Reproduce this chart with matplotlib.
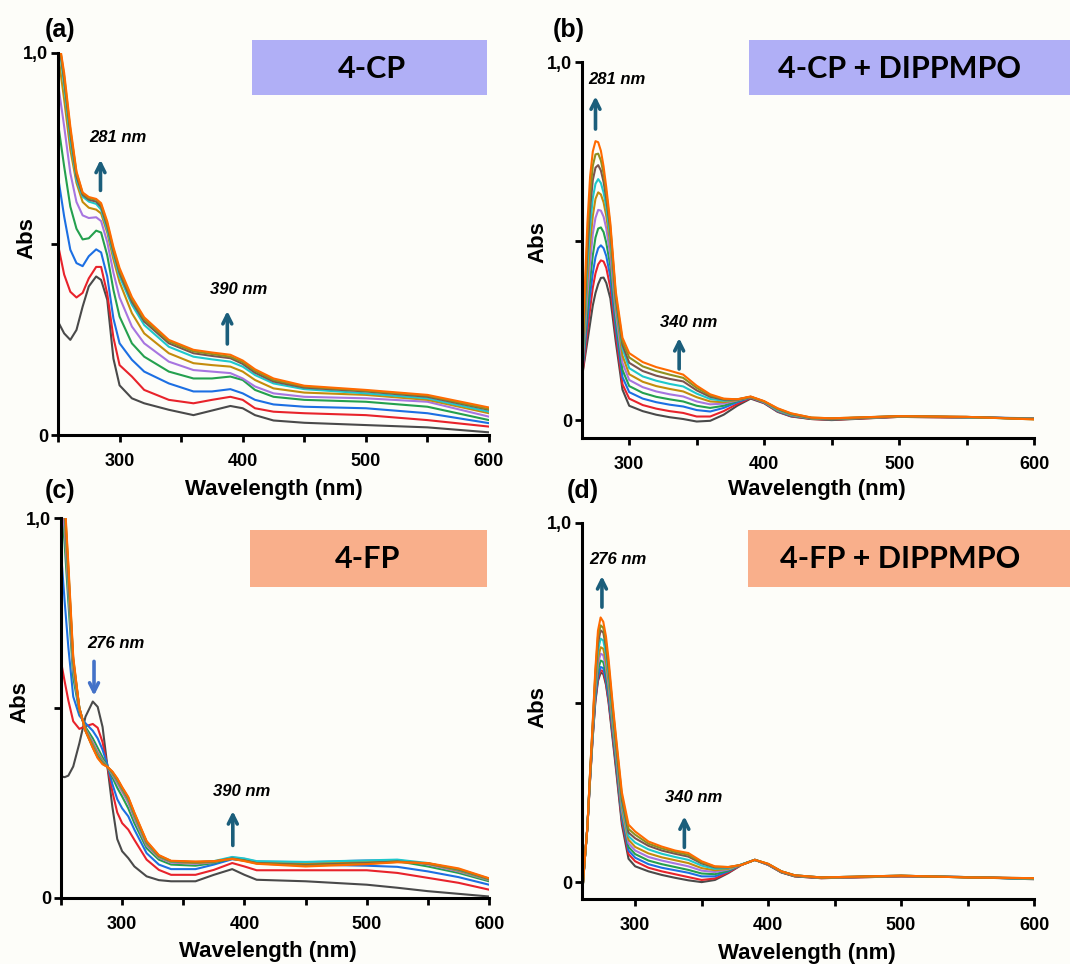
import matplotlib
matplotlib.use('Agg')
import matplotlib.pyplot as plt
from matplotlib.patches import Rectangle

W, H = 1070, 964
BG = '#fdfdf9'
colors = ['#4a4a4a', '#e8232b', '#1c6fe3', '#24a04e', '#a775e0',
          '#c48c0c', '#1ec8cc', '#7a5450', '#8e9020', '#ff6a00']

# ---- (a) 4-CP ----
wl_a = [250, 255, 260, 265, 270, 275, 281, 285, 290, 295, 300, 310, 320, 340,
        360, 375, 390, 400, 410, 425, 450, 500, 550, 600]
abs_a = [
    [0.297, 0.266, 0.249, 0.275, 0.336, 0.389, 0.415, 0.406, 0.354, 0.200, 0.130, 0.096, 0.083, 0.066, 0.052, 0.064, 0.076, 0.070, 0.052, 0.038, 0.032, 0.026, 0.020, 0.007],
    [0.498, 0.420, 0.375, 0.360, 0.372, 0.410, 0.440, 0.440, 0.370, 0.255, 0.183, 0.153, 0.118, 0.092, 0.083, 0.092, 0.100, 0.092, 0.070, 0.061, 0.057, 0.052, 0.039, 0.022],
    [0.677, 0.572, 0.485, 0.450, 0.442, 0.468, 0.486, 0.478, 0.415, 0.305, 0.240, 0.197, 0.166, 0.135, 0.114, 0.114, 0.120, 0.109, 0.092, 0.080, 0.074, 0.070, 0.057, 0.031],
    [0.817, 0.703, 0.598, 0.540, 0.512, 0.515, 0.535, 0.530, 0.470, 0.380, 0.310, 0.240, 0.205, 0.166, 0.148, 0.148, 0.153, 0.144, 0.118, 0.100, 0.092, 0.087, 0.074, 0.039],
    [0.921, 0.808, 0.686, 0.610, 0.575, 0.568, 0.570, 0.560, 0.505, 0.425, 0.360, 0.284, 0.240, 0.192, 0.170, 0.166, 0.162, 0.148, 0.127, 0.109, 0.100, 0.096, 0.087, 0.048],
    [1.000, 0.878, 0.747, 0.660, 0.610, 0.595, 0.590, 0.580, 0.530, 0.460, 0.400, 0.319, 0.266, 0.214, 0.188, 0.183, 0.179, 0.166, 0.144, 0.122, 0.111, 0.105, 0.092, 0.057],
    [1.050, 0.913, 0.773, 0.668, 0.624, 0.611, 0.605, 0.590, 0.537, 0.472, 0.415, 0.341, 0.288, 0.231, 0.205, 0.198, 0.192, 0.179, 0.157, 0.135, 0.120, 0.109, 0.096, 0.061],
    [1.050, 0.930, 0.790, 0.677, 0.629, 0.616, 0.611, 0.597, 0.546, 0.480, 0.424, 0.349, 0.297, 0.240, 0.214, 0.207, 0.201, 0.186, 0.163, 0.140, 0.124, 0.114, 0.100, 0.066],
    [1.050, 0.939, 0.799, 0.686, 0.633, 0.620, 0.616, 0.603, 0.553, 0.486, 0.431, 0.356, 0.303, 0.245, 0.219, 0.212, 0.205, 0.191, 0.168, 0.144, 0.127, 0.116, 0.103, 0.068],
    [1.050, 0.948, 0.808, 0.690, 0.635, 0.623, 0.618, 0.607, 0.559, 0.492, 0.437, 0.361, 0.308, 0.249, 0.223, 0.216, 0.210, 0.195, 0.172, 0.148, 0.129, 0.118, 0.105, 0.072],
]

# ---- (b) 4-CP + DIPPMPO ----
wl_b = [265, 267, 269, 271, 273, 275, 277, 279, 281, 283, 286, 290, 295, 300,
        310, 320, 330, 340, 350, 360, 370, 380, 390, 400, 410, 420, 435, 450,
        500, 550, 600]
abs_b = [
    [0.12, 0.17, 0.22, 0.27, 0.32, 0.355, 0.380, 0.397, 0.398, 0.383, 0.34, 0.22, 0.085, 0.040, 0.025, 0.015, 0.008, 0.003, -0.004, -0.002, 0.015, 0.040, 0.060, 0.047, 0.023, 0.010, 0.003, 0.000, 0.009, 0.007, 0.005],
    [0.12, 0.18, 0.25, 0.31, 0.37, 0.410, 0.435, 0.446, 0.443, 0.425, 0.37, 0.24, 0.100, 0.060, 0.042, 0.032, 0.025, 0.020, 0.010, 0.010, 0.025, 0.045, 0.062, 0.048, 0.024, 0.011, 0.003, 0.001, 0.009, 0.007, 0.005],
    [0.13, 0.20, 0.28, 0.35, 0.41, 0.455, 0.480, 0.488, 0.480, 0.458, 0.40, 0.26, 0.120, 0.078, 0.060, 0.050, 0.043, 0.038, 0.028, 0.024, 0.034, 0.050, 0.063, 0.049, 0.025, 0.012, 0.004, 0.002, 0.010, 0.008, 0.005],
    [0.13, 0.22, 0.31, 0.39, 0.46, 0.510, 0.535, 0.538, 0.525, 0.495, 0.43, 0.28, 0.140, 0.095, 0.076, 0.065, 0.058, 0.052, 0.040, 0.034, 0.040, 0.053, 0.064, 0.050, 0.026, 0.013, 0.004, 0.002, 0.010, 0.008, 0.004],
    [0.14, 0.24, 0.35, 0.44, 0.52, 0.565, 0.587, 0.585, 0.568, 0.535, 0.46, 0.30, 0.160, 0.112, 0.092, 0.080, 0.072, 0.066, 0.052, 0.044, 0.046, 0.055, 0.064, 0.050, 0.027, 0.014, 0.005, 0.003, 0.010, 0.008, 0.004],
    [0.14, 0.26, 0.39, 0.49, 0.57, 0.618, 0.636, 0.630, 0.608, 0.570, 0.49, 0.32, 0.180, 0.128, 0.107, 0.095, 0.087, 0.080, 0.064, 0.052, 0.050, 0.056, 0.064, 0.051, 0.028, 0.015, 0.005, 0.003, 0.010, 0.008, 0.004],
    [0.15, 0.28, 0.43, 0.54, 0.62, 0.660, 0.673, 0.662, 0.635, 0.595, 0.51, 0.33, 0.200, 0.145, 0.122, 0.110, 0.101, 0.094, 0.074, 0.059, 0.054, 0.057, 0.065, 0.051, 0.029, 0.016, 0.006, 0.004, 0.011, 0.008, 0.003],
    [0.15, 0.31, 0.47, 0.59, 0.67, 0.705, 0.712, 0.697, 0.665, 0.618, 0.53, 0.34, 0.210, 0.160, 0.137, 0.124, 0.115, 0.108, 0.083, 0.065, 0.057, 0.057, 0.065, 0.052, 0.031, 0.017, 0.006, 0.004, 0.011, 0.009, 0.003],
    [0.16, 0.33, 0.51, 0.63, 0.71, 0.742, 0.744, 0.725, 0.688, 0.635, 0.54, 0.35, 0.220, 0.175, 0.150, 0.137, 0.127, 0.118, 0.090, 0.069, 0.059, 0.058, 0.065, 0.052, 0.032, 0.018, 0.007, 0.005, 0.011, 0.009, 0.002],
    [0.17, 0.36, 0.55, 0.68, 0.75, 0.779, 0.776, 0.752, 0.708, 0.650, 0.55, 0.36, 0.230, 0.187, 0.162, 0.148, 0.138, 0.127, 0.096, 0.072, 0.060, 0.058, 0.066, 0.053, 0.033, 0.019, 0.007, 0.005, 0.011, 0.009, 0.002],
]

# ---- (c) 4-FP ----
wl_c = [250, 253, 256, 260, 265, 270, 276, 280, 284, 288, 292, 296, 300, 305,
        310, 320, 330, 340, 360, 375, 390, 400, 410, 450, 500, 525, 550, 575, 600]
abs_c = [
    [0.320, 0.318, 0.322, 0.346, 0.407, 0.477, 0.517, 0.503, 0.450, 0.345, 0.240, 0.155, 0.123, 0.105, 0.083, 0.057, 0.047, 0.044, 0.044, 0.061, 0.076, 0.061, 0.048, 0.044, 0.035, 0.027, 0.018, 0.011, 0.004],
    [0.622, 0.570, 0.520, 0.465, 0.445, 0.452, 0.458, 0.448, 0.410, 0.345, 0.280, 0.225, 0.197, 0.180, 0.153, 0.101, 0.074, 0.061, 0.061, 0.074, 0.092, 0.083, 0.073, 0.073, 0.073, 0.066, 0.053, 0.040, 0.022],
    [0.910, 0.780, 0.660, 0.530, 0.480, 0.460, 0.440, 0.420, 0.390, 0.350, 0.300, 0.260, 0.236, 0.215, 0.180, 0.118, 0.088, 0.076, 0.076, 0.088, 0.102, 0.099, 0.092, 0.088, 0.085, 0.082, 0.070, 0.055, 0.035],
    [1.050, 0.930, 0.780, 0.580, 0.490, 0.450, 0.420, 0.395, 0.370, 0.345, 0.318, 0.290, 0.267, 0.236, 0.197, 0.131, 0.101, 0.088, 0.085, 0.092, 0.105, 0.101, 0.094, 0.092, 0.096, 0.097, 0.083, 0.066, 0.044],
    [1.050, 0.970, 0.810, 0.600, 0.495, 0.445, 0.410, 0.385, 0.362, 0.345, 0.324, 0.302, 0.279, 0.250, 0.208, 0.138, 0.106, 0.093, 0.090, 0.094, 0.107, 0.103, 0.096, 0.094, 0.099, 0.100, 0.088, 0.070, 0.047],
    [1.050, 1.000, 0.830, 0.610, 0.500, 0.443, 0.405, 0.380, 0.360, 0.345, 0.327, 0.307, 0.284, 0.256, 0.214, 0.142, 0.108, 0.095, 0.092, 0.095, 0.105, 0.101, 0.094, 0.090, 0.096, 0.098, 0.090, 0.072, 0.048],
    [1.050, 1.020, 0.850, 0.620, 0.500, 0.442, 0.400, 0.375, 0.357, 0.345, 0.329, 0.310, 0.287, 0.259, 0.218, 0.145, 0.110, 0.096, 0.094, 0.097, 0.108, 0.104, 0.097, 0.095, 0.099, 0.101, 0.092, 0.074, 0.049],
    [1.050, 1.030, 0.860, 0.625, 0.500, 0.440, 0.398, 0.372, 0.355, 0.345, 0.331, 0.312, 0.289, 0.262, 0.221, 0.147, 0.111, 0.097, 0.094, 0.096, 0.104, 0.099, 0.092, 0.087, 0.092, 0.096, 0.091, 0.075, 0.050],
    [1.050, 1.040, 0.870, 0.630, 0.500, 0.440, 0.396, 0.370, 0.353, 0.345, 0.332, 0.313, 0.290, 0.264, 0.223, 0.148, 0.112, 0.097, 0.095, 0.096, 0.103, 0.098, 0.091, 0.085, 0.090, 0.095, 0.091, 0.076, 0.051],
    [1.050, 1.050, 0.880, 0.635, 0.500, 0.440, 0.395, 0.368, 0.352, 0.345, 0.333, 0.315, 0.292, 0.266, 0.225, 0.150, 0.113, 0.098, 0.096, 0.097, 0.103, 0.097, 0.090, 0.083, 0.089, 0.094, 0.092, 0.078, 0.052],
]

# ---- (d) 4-FP + DIPPMPO ----
wl_d = [260, 262, 264, 266, 268, 270, 272, 274, 276, 278, 280, 283, 286, 290,
        295, 300, 310, 320, 330, 340, 350, 360, 370, 380, 390, 400, 410, 420,
        440, 500, 550, 600]
abs_d = [
    [-0.04, 0.06, 0.15, 0.280, 0.400, 0.500, 0.560, 0.583, 0.580, 0.550, 0.500, 0.400, 0.30, 0.16, 0.065, 0.044, 0.030, 0.020, 0.012, 0.005, 0.000, 0.006, 0.025, 0.048, 0.062, 0.048, 0.027, 0.016, 0.011, 0.016, 0.014, 0.008],
    [-0.04, 0.06, 0.15, 0.280, 0.400, 0.505, 0.566, 0.590, 0.587, 0.556, 0.505, 0.410, 0.31, 0.17, 0.078, 0.058, 0.040, 0.030, 0.022, 0.014, 0.006, 0.010, 0.027, 0.048, 0.062, 0.048, 0.027, 0.016, 0.011, 0.016, 0.014, 0.009],
    [-0.04, 0.06, 0.15, 0.285, 0.405, 0.510, 0.574, 0.599, 0.596, 0.565, 0.515, 0.420, 0.32, 0.18, 0.088, 0.068, 0.050, 0.040, 0.033, 0.026, 0.016, 0.016, 0.030, 0.049, 0.062, 0.049, 0.028, 0.017, 0.012, 0.017, 0.014, 0.009],
    [-0.04, 0.06, 0.15, 0.285, 0.410, 0.525, 0.590, 0.617, 0.613, 0.580, 0.530, 0.430, 0.33, 0.19, 0.098, 0.078, 0.060, 0.050, 0.042, 0.034, 0.024, 0.022, 0.032, 0.049, 0.062, 0.049, 0.028, 0.017, 0.012, 0.017, 0.014, 0.009],
    [-0.04, 0.06, 0.15, 0.290, 0.415, 0.535, 0.607, 0.636, 0.632, 0.598, 0.545, 0.440, 0.34, 0.20, 0.108, 0.088, 0.070, 0.060, 0.052, 0.044, 0.032, 0.028, 0.035, 0.049, 0.062, 0.049, 0.029, 0.018, 0.012, 0.017, 0.014, 0.010],
    [-0.04, 0.06, 0.15, 0.290, 0.420, 0.545, 0.622, 0.654, 0.650, 0.615, 0.560, 0.450, 0.35, 0.21, 0.118, 0.098, 0.080, 0.069, 0.061, 0.053, 0.039, 0.033, 0.037, 0.049, 0.062, 0.050, 0.029, 0.018, 0.012, 0.017, 0.014, 0.010],
    [-0.04, 0.06, 0.15, 0.295, 0.425, 0.558, 0.645, 0.678, 0.673, 0.636, 0.580, 0.465, 0.36, 0.22, 0.128, 0.110, 0.091, 0.079, 0.070, 0.062, 0.046, 0.037, 0.039, 0.049, 0.062, 0.050, 0.030, 0.019, 0.013, 0.018, 0.013, 0.010],
    [-0.04, 0.06, 0.15, 0.295, 0.430, 0.570, 0.665, 0.701, 0.695, 0.656, 0.595, 0.480, 0.37, 0.23, 0.138, 0.122, 0.101, 0.088, 0.079, 0.071, 0.052, 0.041, 0.041, 0.048, 0.062, 0.050, 0.030, 0.019, 0.013, 0.018, 0.013, 0.011],
    [-0.04, 0.06, 0.15, 0.300, 0.435, 0.580, 0.683, 0.715, 0.708, 0.668, 0.605, 0.490, 0.38, 0.24, 0.148, 0.132, 0.107, 0.094, 0.084, 0.076, 0.055, 0.043, 0.042, 0.048, 0.062, 0.051, 0.030, 0.019, 0.013, 0.018, 0.013, 0.011],
    [-0.04, 0.06, 0.15, 0.300, 0.440, 0.590, 0.700, 0.737, 0.725, 0.685, 0.620, 0.500, 0.39, 0.25, 0.160, 0.141, 0.113, 0.099, 0.088, 0.081, 0.058, 0.044, 0.042, 0.048, 0.062, 0.051, 0.030, 0.019, 0.013, 0.018, 0.013, 0.011],
]

panels = [
    # letter, wl, abs, xlim, ylim, axes box in px (x0, x1, ytop, ybottom)
    ('(a)', wl_a, abs_a, (250, 600), (0, 1.0), (58, 489, 53, 435)),
    ('(b)', wl_b, abs_b, (265, 600), (-0.05, 1.0), (582, 1034, 62, 438)),
    ('(c)', wl_c, abs_c, (250, 600), (0, 1.0), (61, 489, 518, 898)),
    ('(d)', wl_d, abs_d, (260, 600), (-0.047, 1.0), (582, 1034, 523, 899)),
]
letter_pos = [(45, 30), (553, 30), (45, 491), (567, 491)]
abs_pos = [(27, 238), (538, 242), (20, 702), (538, 707)]
wl_pos = [(274, 490), (817, 490), (268, 951), (807, 953)]

boxes = [
    ('4-CP', (252, 487, 40, 95), 372, '#b0aff6'),
    ('4-CP + DIPPMPO', (749, 1070, 40, 95), 900, '#b0aff6'),
    ('4-FP', (250, 487, 530, 587), 368, '#f9af8b'),
    ('4-FP + DIPPMPO', (748, 1070, 530, 587), 900, '#f9af8b'),
]

TEAL = '#1b5e7b'
BLUE = '#4472c8'
# label text, text pos, arrow x, arrow tail y, arrow head y, colour
notes = [
    [('281 nm', (299, 0.78), 284.5, 0.633, 0.728, TEAL),
     ('390 nm', (397, 0.38), 387.5, 0.231, 0.332, TEAL)],
    [('281 nm', (291, 0.952), 275, 0.805, 0.912, TEAL),
     ('340 nm', (344, 0.272), 337, 0.135, 0.237, TEAL)],
    [('276 nm', (295, 0.671), 277, 0.630, 0.525, BLUE),
     ('390 nm', (398, 0.280), 390.5, 0.131, 0.236, TEAL)],
    [('276 nm', (287, 0.897), 275, 0.758, 0.860, TEAL),
     ('340 nm', (344, 0.236), 337, 0.089, 0.191, TEAL)],
]

plt.rcParams['font.family'] = ['Liberation Sans', 'DejaVu Sans']
fig = plt.figure(figsize=(W / 100, H / 100), dpi=100, facecolor=BG)


def fx(px):
    return px / W


def fy(py):
    return 1 - py / H


for i, (letter, wl, spectra, xl, yl, (x0, x1, yt, yb)) in enumerate(panels):
    ax = fig.add_axes([fx(x0), fy(yb), (x1 - x0) / W, (yb - yt) / H])
    ax.set_facecolor(BG)
    for spec, c in zip(spectra, colors):
        ax.plot(wl, spec, color=c, lw=1.5, solid_joinstyle='round')
    ax.set_xlim(*xl)
    ax.set_ylim(*yl)
    for s in ['top', 'right']:
        ax.spines[s].set_visible(False)
    for s in ['left', 'bottom']:
        ax.spines[s].set_linewidth(2.2)
    ax.set_xticks([300, 400, 500, 600])
    ax.set_xticks([350, 450, 550] + ([250] if xl[0] == 250 else []), minor=True)
    ax.set_yticks([0, 0.5, 1.0])
    ax.set_yticklabels(['0', '', '1,0'])
    ax.tick_params(axis='both', which='both', direction='out', width=2.0,
                   length=5, labelsize=13)
    ax.tick_params(axis='x', pad=8)
    ax.tick_params(axis='y', pad=2)
    for lab in ax.get_xticklabels() + ax.get_yticklabels():
        lab.set_fontweight('bold')

    for txt, (tx, ty), axx, y0, y1, c in notes[i]:
        ax.text(tx, ty, txt, ha='center', va='center', fontsize=12,
                fontweight='bold', fontstyle='italic')
        ax.annotate('', xy=(axx, y1), xytext=(axx, y0),
                    arrowprops=dict(arrowstyle='->', lw=2.6, color=c,
                                    mutation_scale=16))

    lx, ly = letter_pos[i]
    fig.text(fx(lx), fy(ly), letter, ha='left', va='center', fontsize=18,
             fontweight='bold')
    ax_x, ax_y = abs_pos[i]
    fig.text(fx(ax_x), fy(ax_y), 'Abs', ha='center', va='center', fontsize=16,
             fontweight='bold', rotation=90)
    wx, wy = wl_pos[i]
    fig.text(fx(wx), fy(wy), 'Wavelength (nm)', ha='center', va='center',
             fontsize=16, fontweight='bold')

for name, (bx0, bx1, by0, by1), tx, fc in boxes:
    fig.add_artist(Rectangle((fx(bx0), fy(by1)), (bx1 - bx0) / W, (by1 - by0) / H,
                             transform=fig.transFigure, facecolor=fc,
                             edgecolor='none'))
    fig.text(fx(tx), fy((by0 + by1) / 2 + 1), name, ha='center', va='center',
             fontsize=22, fontweight='bold', family=['Lato', 'DejaVu Sans'])

fig.savefig('out.png', dpi=100, facecolor=BG)
